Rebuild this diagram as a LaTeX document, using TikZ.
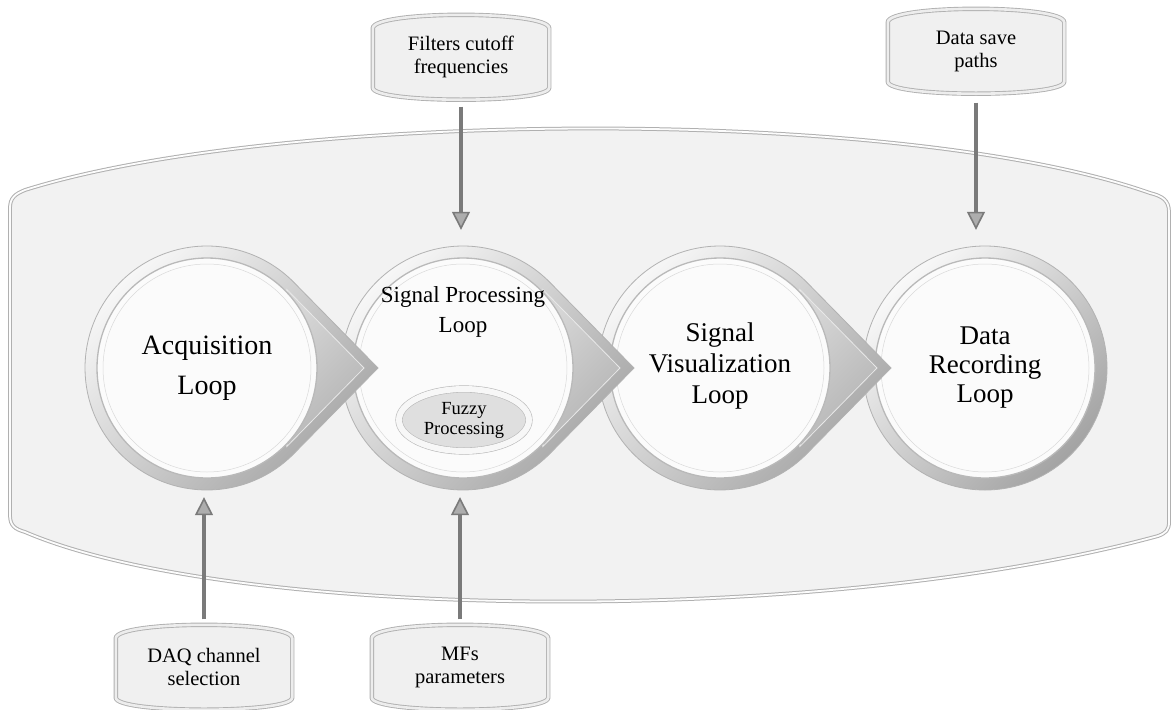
\documentclass[tikz,border=0pt]{standalone}
\usepackage{fontspec}
\setmainfont{Liberation Serif}
\usetikzlibrary{arrows.meta,calc,shapes.geometric}
\pgfdeclarelayer{back}
\pgfsetlayers{back,main}
\tikzset{
  shell/.style = {fill=gray!10, draw=gray!62, line width=1pt, double=gray!2, double distance=1.8pt},
  ring/.style = {draw=gray!60, line width=.8pt, top color=gray!5, bottom color=gray!72, shading angle=45},
  face/.style = {draw=gray!18, line width=.8pt, top color=gray!32, bottom color=gray!60, shading angle=45},
  disc/.style = {fill=gray!3, draw=gray!55, line width=1.3pt},
  loop/.style = {circle, minimum size=244pt, inner sep=0pt, align=center},
  inbox/.style = {minimum width=176pt, minimum height=85pt, inner sep=0pt, align=center,
    font=\fontsize{20.5}{23}\selectfont},
  barrel/.style = {fill=gray!12, draw=gray!62, line width=.9pt, double=gray!14, double distance=2.6pt},
  fuzzy/.style = {ellipse, minimum width=130pt, minimum height=62pt, inner sep=0pt, align=center,
    fill=gray!25, draw=gray!55, line width=.6pt, double=gray!6, double distance=6pt,
    font=\fontsize{18.5}{20}\selectfont},
  feed/.style = {draw=black!52, line width=4pt,
    -{Triangle[length=18pt, width=18pt, fill=black!32, line width=1.6pt]}}
}
% barrel outline round a box node
\newcommand\barrel[1]{%
  \draw[barrel] ([yshift=-14pt]#1.north west) .. controls ([yshift=4pt]#1.north west)
      and ([yshift=4pt]#1.north east) .. ([yshift=-14pt]#1.north east)
    -- ([yshift=12pt]#1.south east) .. controls ([yshift=-4pt]#1.south east)
      and ([yshift=-4pt]#1.south west) .. ([yshift=12pt]#1.south west) -- cycle;}

\begin{document}
\begin{tikzpicture}[x=1pt, y=-1pt]
  \useasboundingbox (0,0) rectangle (1171,710);

  % loop names
  \node[loop, font=\fontsize{28}{40}\selectfont] (acq) at (207,368) {Acquisition\\Loop};
  \node[loop] (proc) at (463,368) {};
  \node[font=\fontsize{23}{30}\selectfont, align=center] (proctitle) at (463,312) {Signal Processing\\Loop};
  \node[fuzzy] (fz) at (464,420) {Fuzzy\\Processing};
  \node[loop, font=\fontsize{27}{31}\selectfont] (vis) at (720,366) {Signal\\Visualization\\Loop};
  \node[loop, font=\fontsize{27}{29}\selectfont] (rec) at (985,368) {Data\\Recording\\Loop};

  % inputs
  \node[inbox] (filt) at (461,57) {Filters cutoff\\frequencies};
  \node[inbox] (save) at (976,51) {Data save\\paths};
  \node[inbox] (daq) at (204,667) {DAQ channel\\selection};
  \node[inbox] (mfs) at (460,667) {MFs\\parameters};

  \begin{pgfonlayer}{back}
    \draw[shell] (10,208) -- (10,515) .. controls (10,526) and (15,529) .. (25,532)
      .. controls (230,620) and (820,628) .. (1158,536)
      .. controls (1166,533) and (1169,530) .. (1169,522) -- (1169,212)
      .. controls (1169,200) and (1162,196) .. (1150,193)
      .. controls (900,105) and (280,110) .. (25,190)
      .. controls (15,194) and (10,198) .. (10,208) -- cycle;
    \foreach \cx/\tail in {985/0, 720/1, 463/1, 207/1}{
      \begin{scope}[shift={(\cx,368)}]
        \ifnum\tail=1
          \path[ring] (-44.5:122) -- (171,0) -- (44.5:122)
            arc[start angle=44.5, end angle=315.5, radius=122] -- cycle;
          \path[face] (-44.5:112) -- (157,0) -- (44.5:112) -- cycle;
        \else
          \path[ring] (0,0) circle[radius=122];
        \fi
        \path[disc] (0,0) circle[radius=110];
        \draw[gray!30, line width=.5pt] (0,0) circle[radius=104];
      \end{scope}
    }
    \foreach \b in {filt, save, daq, mfs}
      \barrel{\b};
  \end{pgfonlayer}

  \draw[feed, shorten <=7pt, shorten >=16pt] (filt.south) -- (filt.south |- proc.north);
  \draw[feed, shorten <=9pt, shorten >=16pt] (save.south) -- (save.south |- rec.north);
  \draw[feed, shorten <=5pt, shorten >=7pt] (daq.north) -- (daq.north |- acq.south);
  \draw[feed, shorten <=5pt, shorten >=7pt] (mfs.north) -- (mfs.north |- proc.south);
\end{tikzpicture}
\end{document}
